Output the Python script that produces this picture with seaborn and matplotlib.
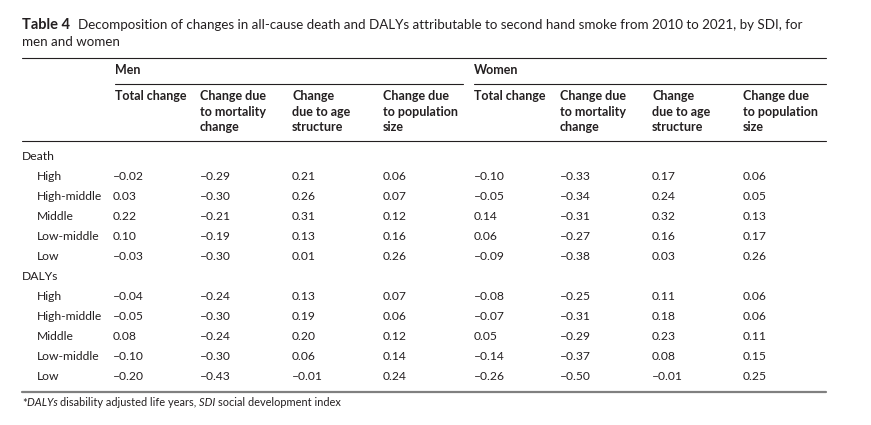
import numpy as np
import pandas as pd
import matplotlib
matplotlib.use("Agg")
import matplotlib.pyplot as plt
import seaborn as sns

# table contents
sdi_levels = ["High", "High-middle", "Middle", "Low-middle", "Low"]
col_headers = ["Total change", "Change due\nto mortality\nchange",
               "Change\ndue to age\nstructure", "Change due\nto population\nsize"]

death_men = [[-0.02, -0.29, 0.21, 0.06],
             [0.03, -0.30, 0.26, 0.07],
             [0.22, -0.21, 0.31, 0.12],
             [0.10, -0.19, 0.13, 0.16],
             [-0.03, -0.30, 0.01, 0.26]]
death_women = [[-0.10, -0.33, 0.17, 0.06],
               [-0.05, -0.34, 0.24, 0.05],
               [0.14, -0.31, 0.32, 0.13],
               [0.06, -0.27, 0.16, 0.17],
               [-0.09, -0.38, 0.03, 0.26]]
dalys_men = [[-0.04, -0.24, 0.13, 0.07],
             [-0.05, -0.30, 0.19, 0.06],
             [0.08, -0.24, 0.20, 0.12],
             [-0.10, -0.30, 0.06, 0.14],
             [-0.20, -0.43, -0.01, 0.24]]
dalys_women = [[-0.08, -0.25, 0.11, 0.06],
               [-0.07, -0.31, 0.18, 0.06],
               [0.05, -0.29, 0.23, 0.11],
               [-0.14, -0.37, 0.08, 0.15],
               [-0.26, -0.50, -0.01, 0.25]]

sections = [("Death", death_men, death_women), ("DALYs", dalys_men, dalys_women)]

sns.set_theme(style="white")
plt.rcParams["font.family"] = ["Lato", "DejaVu Sans"]

fig = plt.figure(figsize=(8.71, 4.25), dpi=100)
ax = fig.add_axes([0, 0, 1, 1])
ax.set_xlim(0, 871)
ax.set_ylim(425, 0)
ax.axis("off")
renderer = fig.canvas.get_renderer()

ink = "#231f20"
fs = 8.7
hfs = 9.0

def fmt(v):
    s = f"{abs(v):.2f}"
    return ("\u2013" + s) if v < 0 else s

def run(x, y, pieces, size, gap=0):
    # write text pieces one after another on a line
    for txt, kw in pieces:
        t = ax.text(x, y, txt, fontsize=size, color=ink, va="center", **kw)
        bb = t.get_window_extent(renderer)
        x += bb.width + gap

# title
ax.text(22, 25, "Table 4", fontsize=10.5, fontweight="bold", color=ink, va="center")
ax.text(78, 25, "Decomposition of changes in all-cause death and DALYs attributable to "
        "second hand smoke from 2010 to 2021, by SDI, for", fontsize=9.6, color=ink, va="center")
ax.text(22, 42, "men and women", fontsize=9.6, color=ink, va="center")

# rules
ax.plot([22, 826], [58, 58], color=ink, lw=0.8)
ax.plot([115, 463], [84, 84], color=ink, lw=0.8)
ax.plot([474, 826], [84, 84], color=ink, lw=0.8)
ax.plot([22, 826], [141, 141], color=ink, lw=0.8)
ax.plot([22, 826], [392, 392], color="#808080", lw=1.6)

men_x = [113, 200, 292, 383]
women_x = [474, 560, 652, 743]
men_hx = [115, 200, 292, 383]

ax.text(115, 70, "Men", fontsize=hfs, fontweight="bold", color=ink, va="center")
ax.text(474, 70, "Women", fontsize=hfs, fontweight="bold", color=ink, va="center")
for xs in (men_hx, women_x):
    for x, h in zip(xs, col_headers):
        ax.text(x, 90, h, fontsize=hfs, fontweight="bold", color=ink,
                va="top", linespacing=1.35)

y = 156
for name, men, women in sections:
    ax.text(22, y, name, fontsize=fs, color=ink, va="center")
    y += 20
    for i, lvl in enumerate(sdi_levels):
        ax.text(37, y, lvl, fontsize=fs, color=ink, va="center")
        for x, v in zip(men_x, men[i]):
            ax.text(x, y, fmt(v), fontsize=fs, color=ink, va="center")
        for x, v in zip(women_x, women[i]):
            ax.text(x, y, fmt(v), fontsize=fs, color=ink, va="center")
        y += 20
    y += 1

run(22, 403, [("*", {}), ("DALYs ", {"style": "italic"}),
              ("disability adjusted life years, ", {}),
              ("SDI ", {"style": "italic"}),
              ("social development index", {})], 7.9)

fig.savefig("out.png", dpi=100, facecolor="white")
